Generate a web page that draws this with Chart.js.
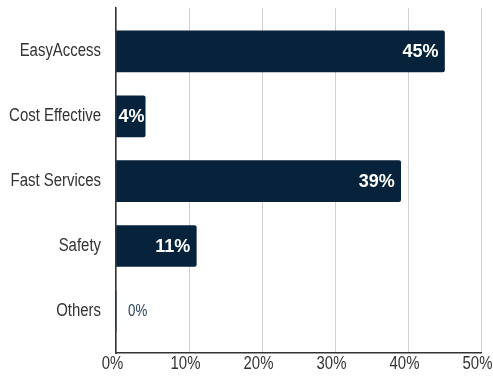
<!DOCTYPE html>
<html>
<head>
<meta charset="utf-8">
<script src="https://cdn.jsdelivr.net/npm/chart.js@4/dist/chart.umd.min.js"></script>
<style>
    html, body { margin: 0; padding: 0; background: #fff; }
    #wrap { width: 493px; height: 376px; }
</style>
</head>
<body>
<div id="wrap"><canvas id="reasonsChart" width="493" height="376"></canvas></div>
<script>
// Reasons for choosing the service (share of answers, %)
const categories = ['EasyAccess', 'Cost Effective', 'Fast Services', 'Safety', 'Others'];
const shares = [45, 4, 39, 11, 0];
const xTicks = [0, 10, 20, 30, 40, 50];

const barColor = '#07233b';
const axisFont = "18px 'Liberation Sans', Arial, sans-serif";
const squeeze = 0.83; // narrow look for axis text

// draw text squeezed horizontally around its anchor point
function narrowText(ctx, text, x, y, align) {
    ctx.save();
    ctx.translate(x, y);
    ctx.scale(squeeze, 1);
    ctx.textAlign = align;
    ctx.fillText(text, 0, 0);
    ctx.restore();
}

// Axis labels drawn in a condensed style
const axisLabels = {
    id: 'axisLabels',
    afterDraw(chart) {
        const ctx = chart.ctx;
        const xs = chart.scales.x;
        const ys = chart.scales.y;
        ctx.save();
        ctx.font = axisFont;
        ctx.fillStyle = '#333333';
        ctx.textBaseline = 'middle';
        categories.forEach((c, i) => {
            narrowText(ctx, c, ys.right - 15, ys.getPixelForValue(i), 'right');
        });
        xTicks.forEach(v => {
            narrowText(ctx, v + '%', xs.getPixelForValue(v) - 3.5, xs.top + 11, 'center');
        });
        ctx.restore();
    }
};

// Percent labels at the end of each bar
const valueLabels = {
    id: 'valueLabels',
    afterDatasetsDraw(chart) {
        const ctx = chart.ctx;
        const meta = chart.getDatasetMeta(0);
        ctx.save();
        ctx.textBaseline = 'middle';
        meta.data.forEach((bar, i) => {
            const v = shares[i];
            const text = v + '%';
            if (v > 0) {
                ctx.font = "bold 18px 'Liberation Sans', Arial, sans-serif";
                ctx.fillStyle = '#ffffff';
                ctx.textAlign = 'right';
                const w = ctx.measureText(text).width;
                const x = Math.max(bar.x - 6, bar.base + 2 + w);
                ctx.fillText(text, x, bar.y + 1);
            } else {
                ctx.font = "16px 'Liberation Sans', Arial, sans-serif";
                ctx.fillStyle = '#243f5c';
                narrowText(ctx, text, bar.x + 12, bar.y + 1, 'left');
            }
        });
        ctx.restore();
    }
};

const ctx = document.getElementById('reasonsChart').getContext('2d');
const reasonsChart = new Chart(ctx, {
    type: 'bar',
    data: {
        datasets: [{
            data: shares.map((v, i) => ({ x: v, y: i })),
            backgroundColor: barColor,
            borderRadius: 2,
            borderSkipped: 'start',
            barThickness: 41
        }]
    },
    options: {
        indexAxis: 'y',
        responsive: false,
        animation: false,
        layout: { padding: { left: 0, right: 12, top: 8, bottom: 0 } },
        plugins: {
            legend: { display: false },
            tooltip: { enabled: false }
        },
        scales: {
            x: {
                type: 'linear',
                min: 0,
                max: 50,
                afterBuildTicks: scale => { scale.ticks = xTicks.map(v => ({ value: v })); },
                afterFit: scale => {
                    scale.height = 23;
                    scale.paddingLeft = 0;
                    scale.paddingRight = 0;
                },
                grid: { color: '#cfcfcf', lineWidth: 1, drawTicks: false },
                border: { color: '#333333', width: 1.5 },
                ticks: { display: false }
            },
            y: {
                type: 'linear',
                reverse: true,
                offset: false,
                min: -0.67,
                max: 4.65,
                afterBuildTicks: scale => { scale.ticks = categories.map((c, i) => ({ value: i })); },
                afterFit: scale => {
                    scale.width = 116;
                    scale.paddingTop = 0;
                    scale.paddingBottom = 0;
                },
                grid: { display: false, drawTicks: false },
                border: { color: '#333333', width: 1.5 },
                ticks: { display: false }
            }
        }
    },
    plugins: [valueLabels, axisLabels]
});
</script>
</body>
</html>
